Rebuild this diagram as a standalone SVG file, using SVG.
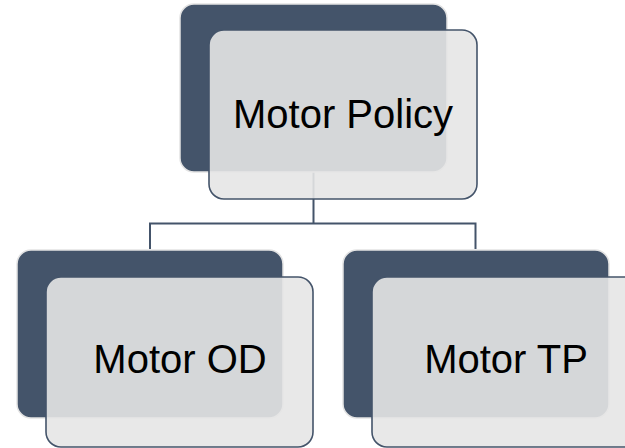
<svg xmlns="http://www.w3.org/2000/svg" width="625" height="448" viewBox="0 0 625 448">
<style>
.back{fill:#44546a;stroke:#e3e3e3;stroke-width:1.5}
.front{fill:#e6e6e6;fill-opacity:0.9;stroke:#44546a;stroke-width:1.6}
.conn{fill:none;stroke:#44546a;stroke-width:2}
.lbl{font-family:"Liberation Sans",Arial,sans-serif;font-size:40px;fill:#000;text-anchor:middle}
</style>
<rect width="625" height="448" fill="#fff"/>
<g id="connectors">
<path class="conn" d="M313.5,172 V223.5 M150,249 V223.5 H475.5 V249"/>
</g>
<g id="motor-policy">
<rect class="back" x="180" y="4" width="267" height="168" rx="14"/>
<rect class="front" x="209" y="30" width="268" height="169" rx="15"/>
<text class="lbl" x="343" y="128">Motor Policy</text>
</g>
<g id="motor-od">
<rect class="back" x="17" y="250" width="266" height="168" rx="14"/>
<rect class="front" x="46" y="277" width="267" height="170" rx="15"/>
<text class="lbl" x="180" y="373">Motor OD</text>
</g>
<g id="motor-tp">
<rect class="back" x="343" y="250" width="266" height="168" rx="14"/>
<rect class="front" x="372" y="277" width="267" height="170" rx="15"/>
<text class="lbl" x="506" y="373">Motor TP</text>
</g>
</svg>
